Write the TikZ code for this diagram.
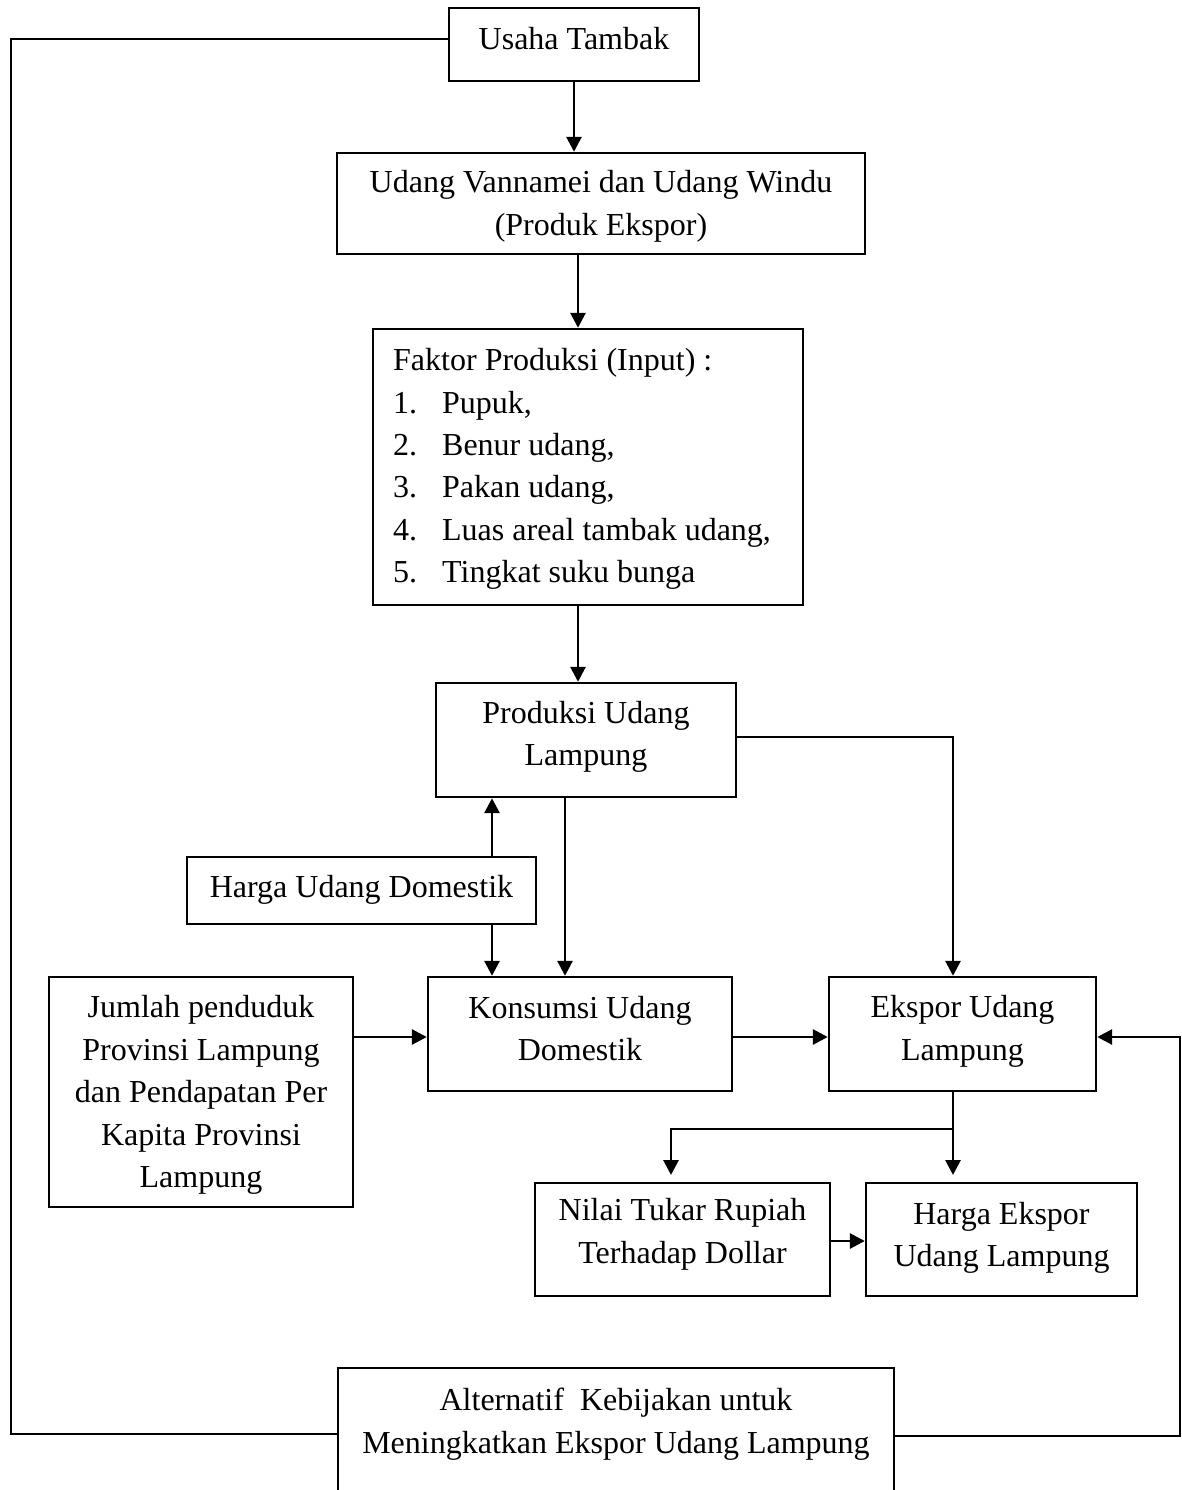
\documentclass[tikz,border=0pt]{standalone}
\usepackage{fontspec}
\setmainfont{Liberation Serif}
\usetikzlibrary{arrows.meta,calc}
\begin{document}
\begin{tikzpicture}[x=1pt,y=-1pt,
  box/.style={draw, line width=2.4pt, rectangle, inner sep=0pt},
  txt/.style={font=\fontsize{32}{42.5}\selectfont, align=center, inner sep=0pt},
  lst/.style={font=\fontsize{32}{42.3}\selectfont, align=left, inner sep=0pt, anchor=north west},
  arr/.style={line width=2.8pt, -{Triangle[length=15pt,width=15pt]}},
  link/.style={line width=2.2pt}]
\useasboundingbox (0,0) rectangle (1181,1490);
\clip (0,0) rectangle (1181,1490);

% boxes
\node[box, minimum width=250, minimum height=73]  (usaha)      at (574,44.5) {};
\node[box, minimum width=528, minimum height=101] (udang)      at (601,203.5) {};
\node[box, minimum width=430, minimum height=276] (faktor)     at (588,467) {};
\node[box, minimum width=300, minimum height=114] (produksi)   at (586,740) {};
\node[box, minimum width=349, minimum height=67]  (hargadom)   at (361.5,890.5) {};
\node[box, minimum width=304, minimum height=230] (jumlah)     at (201,1092) {};
\node[box, minimum width=304, minimum height=114] (konsumsi)   at (580,1034) {};
\node[box, minimum width=267, minimum height=114] (ekspor)     at (962.5,1034) {};
\node[box, minimum width=295, minimum height=113] (nilai)      at (682.5,1239.5) {};
\node[box, minimum width=271, minimum height=113] (hargaeks)   at (1001.5,1239.5) {};
\node[box, minimum width=556, minimum height=160] (alternatif) at (616,1448) {};

% texts
\node[txt] (usahaT)      at (574,38.5)    {Usaha Tambak};
\node[txt] (udangT)      at (601,206.5)   {Udang Vannamei dan Udang Windu\\(Produk Ekspor)};
\node[lst] (faktorT)     at (393,348.5)   {Faktor Produksi (Input) :\\
  \makebox[49pt][l]{1.}Pupuk,\\
  \makebox[49pt][l]{2.}Benur udang,\\
  \makebox[49pt][l]{3.}Pakan udang,\\
  \makebox[49pt][l]{4.}Luas areal tambak udang,\\
  \makebox[49pt][l]{5.}Tingkat suku bunga};
\node[txt] (produksiT)   at (586,737)     {Produksi Udang\\Lampung};
\node[txt] (hargadomT)   at (361.5,890)   {Harga Udang Domestik};
\node[txt] (jumlahT)     at (201,1095)    {Jumlah penduduk\\Provinsi Lampung\\dan Pendapatan Per\\Kapita Provinsi\\Lampung};
\node[txt] (konsumsiT)   at (580,1028.5)  {Konsumsi Udang\\Domestik};
\node[txt] (eksporT)     at (962.5,1031.5){Ekspor Udang\\Lampung};
\node[txt] (nilaiT)      at (682.5,1234.5){Nilai Tukar Rupiah\\Terhadap Dollar};
\node[txt] (hargaeksT)   at (1001.5,1238) {Harga Ekspor\\Udang Lampung};
\node[txt] (alternatifT) at (616,1424)    {Alternatif~~Kebijakan untuk\\Meningkatkan Ekspor Udang Lampung};

% helper coordinates
\coordinate (c1)  at (578,0);
\coordinate (c2)  at (953,737);
\coordinate (c3)  at (565,0);
\coordinate (c4)  at (492,0);
\coordinate (c5)  at (0,1037);
\coordinate (c6)  at (1180,1436);
\coordinate (c7)  at (11,1434);
\coordinate (c8)  at (11,39);
\coordinate (c9)  at (953,1129);
\coordinate (c10) at (671,1129);
\coordinate (c11) at (0,1241);
\coordinate (c12) at (0,1175);

% connectors
\draw[arr] (usaha.south) -- (usaha.south |- udang.north);
\draw[arr] (udang.south -| c1) -- (faktor.north -| c1);
\draw[arr] (faktor.south -| c1) -- (produksi.north -| c1);
\draw[arr] (produksi.east |- c2) -- (c2) -- (ekspor.north -| c2);
\draw[arr] (produksi.south -| c3) -- (konsumsi.north -| c3);
\draw[arr] (hargadom.north -| c4) -- (produksi.south -| c4);
\draw[arr] (hargadom.south -| c4) -- (konsumsi.north -| c4);
\draw[arr] (jumlah.east |- c5) -- (konsumsi.west |- c5);
\draw[arr] (konsumsi.east |- c5) -- (ekspor.west |- c5);
\draw[arr] (alternatif.east |- c6) -- (c6) -- (c6 |- c5) -- (ekspor.east |- c5);
\draw[link] (alternatif.west |- c7) -- (c7) -- (c8) -- (usaha.west |- c8);
\draw[arr] (ekspor.south -| c9) -- (c12 -| c9);
\draw[arr] (c9) -- (c10) -- (c12 -| c10);
\draw[arr] (nilai.east |- c11) -- (hargaeks.west |- c11);
\end{tikzpicture}
\end{document}
